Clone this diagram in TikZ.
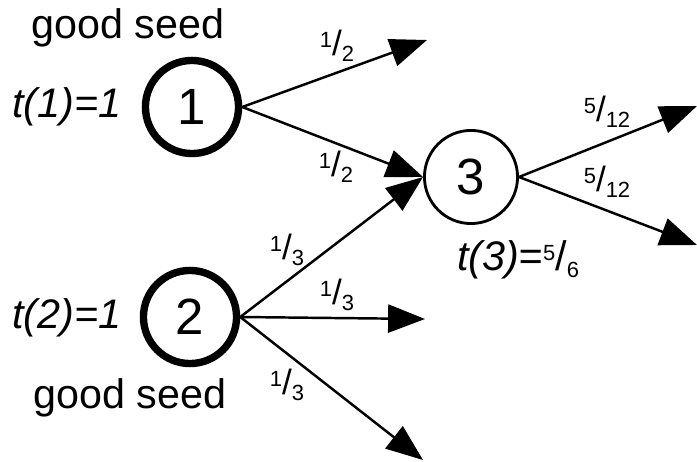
\documentclass[tikz,border=0pt]{standalone}
\usepackage{fontspec}
\setmainfont{Liberation Sans}
\usetikzlibrary{arrows.meta}

\tikzset{
  seed/.style={draw, circle, line width=4.2pt, minimum size=53pt, inner sep=0pt,
    font=\fontsize{29}{29}\selectfont},
  plain/.style={draw, circle, line width=1.6pt, minimum size=53pt, inner sep=0pt,
    font=\fontsize{29}{29}\selectfont},
  wt/.style={font=\fontsize{20}{20}\selectfont, inner sep=0pt},
  lbl/.style={font=\fontsize{23.5}{23.5}\selectfont, inner sep=0pt},
  edge/.style={->, line width=1.4pt},
}
\newcommand{\wfrac}[2]{\raisebox{0.45ex}{\fontsize{12.5}{12.5}\selectfont #1}/\raisebox{-0.3ex}{\fontsize{12.5}{12.5}\selectfont #2}}

\begin{document}
\begin{tikzpicture}[x=0.02cm, y=-0.02cm, >={Triangle[length=21pt, width=16pt]}]
  \useasboundingbox (0,0) rectangle (697,462);

  % Nodes
  \node[seed]  (n1) at (192,107) {1};
  \node[seed]  (n2) at (190,317) {2};
  \node[plain] (n3) at (471,177) {3};

  % Free ends
  \coordinate (a1) at (427,40);
  \coordinate (b2) at (425,319);
  \coordinate (c2) at (423,460);
  \coordinate (a3) at (697,106);
  \coordinate (b3) at (697,245);

  % Edges
  \draw[edge] (n1.east) -- (a1);
  \draw[edge] (n1.east) -- (n3.west);
  \draw[edge] (n2.east) -- (n3.west);
  \draw[edge] (n2.east) -- (b2);
  \draw[edge] (n2.east) -- (c2);
  \draw[edge] (n3.east) -- (a3);
  \draw[edge] (n3.east) -- (b3);

  % Weights
  \node[wt] (w1a) at (337,46)  {\wfrac{1}{2}};
  \node[wt] (w1b) at (336,167) {\wfrac{1}{2}};
  \node[wt] (w2a) at (287,250) {\wfrac{1}{3}};
  \node[wt] (w2b) at (337,295) {\wfrac{1}{3}};
  \node[wt] (w2c) at (287,385) {\wfrac{1}{3}};
  \node[wt] (w3a) at (607,112) {\wfrac{5}{12}};
  \node[wt] (w3b) at (607,182) {\wfrac{5}{12}};

  % Labels
  \node[lbl] (g1) at (128,28)  {good seed};
  \node[lbl] (g2) at (130,398) {good seed};
  \node[lbl] (t1) at (67,107)  {\itshape t(1)=1};
  \node[lbl] (t2) at (67,318)  {\itshape t(2)=1};
  \node[lbl] (t3) at (518,260) {\itshape t(3)={\upshape\wfrac{5}{6}}};
\end{tikzpicture}
\end{document}
